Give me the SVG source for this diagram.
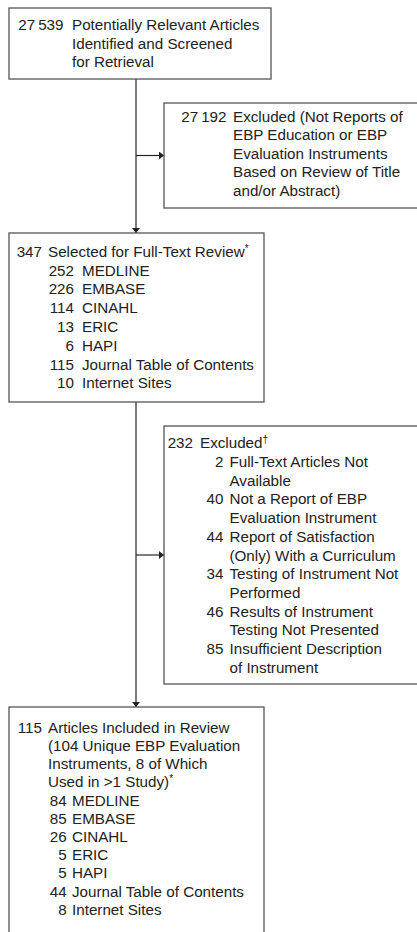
<svg xmlns="http://www.w3.org/2000/svg" width="417" height="932" viewBox="0 0 417 932">
<style>
  text { font-family: "Liberation Sans", Arial, sans-serif; font-size: 15.2px; fill: #222; }
  .n { text-anchor: end; }
  .box { fill: #fff; stroke: #555; stroke-width: 1.3; }
  .conn { stroke: #222; stroke-width: 1.2; fill: none; }
  .sup { font-size: 10px; }
</style>
<defs>
  <marker id="arr" viewBox="0 0 10 10" refX="10" refY="5" markerWidth="5" markerHeight="8" markerUnits="userSpaceOnUse" orient="auto" preserveAspectRatio="none">
    <path d="M0,0 L10,5 L0,10 Z" fill="#222"/>
  </marker>
</defs>
<rect x="0" y="0" width="417" height="932" fill="#fff"/>
<g id="connectors">
  <line class="conn" x1="136" y1="79" x2="136" y2="233" marker-end="url(#arr)"/>
  <line class="conn" x1="136" y1="155.5" x2="164" y2="155.5" marker-end="url(#arr)"/>
  <line class="conn" x1="136" y1="402" x2="136" y2="707" marker-end="url(#arr)"/>
  <line class="conn" x1="136" y1="555" x2="164" y2="555" marker-end="url(#arr)"/>
</g>
<g id="identified">
  <rect class="box" x="9" y="8" width="262" height="71"/>
  <text class="n" x="63.5" y="30">27&#8201;539</text>
  <text x="72" y="30">Potentially Relevant Articles</text>
  <text x="72" y="48.5">Identified and Screened</text>
  <text x="72" y="67">for Retrieval</text>
</g>
<g id="excluded1">
  <rect class="box" x="164" y="103" width="260" height="105"/>
  <text class="n" x="226.5" y="121.5">27&#8201;192</text>
  <text x="233" y="121.5">Excluded (Not Reports of</text>
  <text x="233" y="140">EBP Education or EBP</text>
  <text x="233" y="158.5">Evaluation Instruments</text>
  <text x="233" y="177">Based on Review of Title</text>
  <text x="233" y="195.5">and/or Abstract)</text>
</g>
<g id="selected">
  <rect class="box" x="9" y="233" width="255" height="169"/>
  <text class="n" x="42" y="256.7">347</text>
  <text x="48" y="256.7">Selected for Full-Text Review<tspan class="sup" dy="-5">*</tspan></text>
  <text class="n" x="74" y="275.5">252</text><text x="82" y="275.5">MEDLINE</text>
  <text class="n" x="74" y="294.3">226</text><text x="82" y="294.3">EMBASE</text>
  <text class="n" x="74" y="313.1">114</text><text x="82" y="313.1">CINAHL</text>
  <text class="n" x="74" y="331.9">13</text><text x="82" y="331.9">ERIC</text>
  <text class="n" x="74" y="350.7">6</text><text x="82" y="350.7">HAPI</text>
  <text class="n" x="74" y="369.5">115</text><text x="82" y="369.5">Journal Table of Contents</text>
  <text class="n" x="74" y="388.3">10</text><text x="82" y="388.3">Internet Sites</text>
</g>
<g id="excluded2">
  <rect class="box" x="164" y="426" width="260" height="258"/>
  <text class="n" x="193" y="448.3">232</text>
  <text x="200" y="448.3">Excluded<tspan class="sup" dy="-5">†</tspan></text>
  <text class="n" x="223.5" y="467">2</text><text x="229.5" y="467">Full-Text Articles Not</text>
  <text x="229.5" y="485.7">Available</text>
  <text class="n" x="223.5" y="504.4">40</text><text x="229.5" y="504.4">Not a Report of EBP</text>
  <text x="229.5" y="523.1">Evaluation Instrument</text>
  <text class="n" x="223.5" y="541.8">44</text><text x="229.5" y="541.8">Report of Satisfaction</text>
  <text x="229.5" y="560.5">(Only) With a Curriculum</text>
  <text class="n" x="223.5" y="579.2">34</text><text x="229.5" y="579.2">Testing of Instrument Not</text>
  <text x="229.5" y="597.9">Performed</text>
  <text class="n" x="223.5" y="616.6">46</text><text x="229.5" y="616.6">Results of Instrument</text>
  <text x="229.5" y="635.3">Testing Not Presented</text>
  <text class="n" x="223.5" y="654">85</text><text x="229.5" y="654">Insufficient Description</text>
  <text x="229.5" y="672.7">of Instrument</text>
</g>
<g id="included">
  <rect class="box" x="9" y="707" width="255" height="240"/>
  <text class="n" x="42" y="732.7">115</text>
  <text x="48" y="732.7">Articles Included in Review</text>
  <text x="48" y="750.9">(104 Unique EBP Evaluation</text>
  <text x="48" y="769.1">Instruments, 8 of Which</text>
  <text x="48" y="787.3">Used in &gt;1 Study)<tspan class="sup" dy="-5">*</tspan></text>
  <text class="n" x="66.7" y="805.5">84</text><text x="72" y="805.5">MEDLINE</text>
  <text class="n" x="66.7" y="823.7">85</text><text x="72" y="823.7">EMBASE</text>
  <text class="n" x="66.7" y="841.9">26</text><text x="72" y="841.9">CINAHL</text>
  <text class="n" x="66.7" y="860.1">5</text><text x="72" y="860.1">ERIC</text>
  <text class="n" x="66.7" y="878.3">5</text><text x="72" y="878.3">HAPI</text>
  <text class="n" x="66.7" y="896.5">44</text><text x="72" y="896.5">Journal Table of Contents</text>
  <text class="n" x="66.7" y="914.7">8</text><text x="72" y="914.7">Internet Sites</text>
</g>
</svg>
